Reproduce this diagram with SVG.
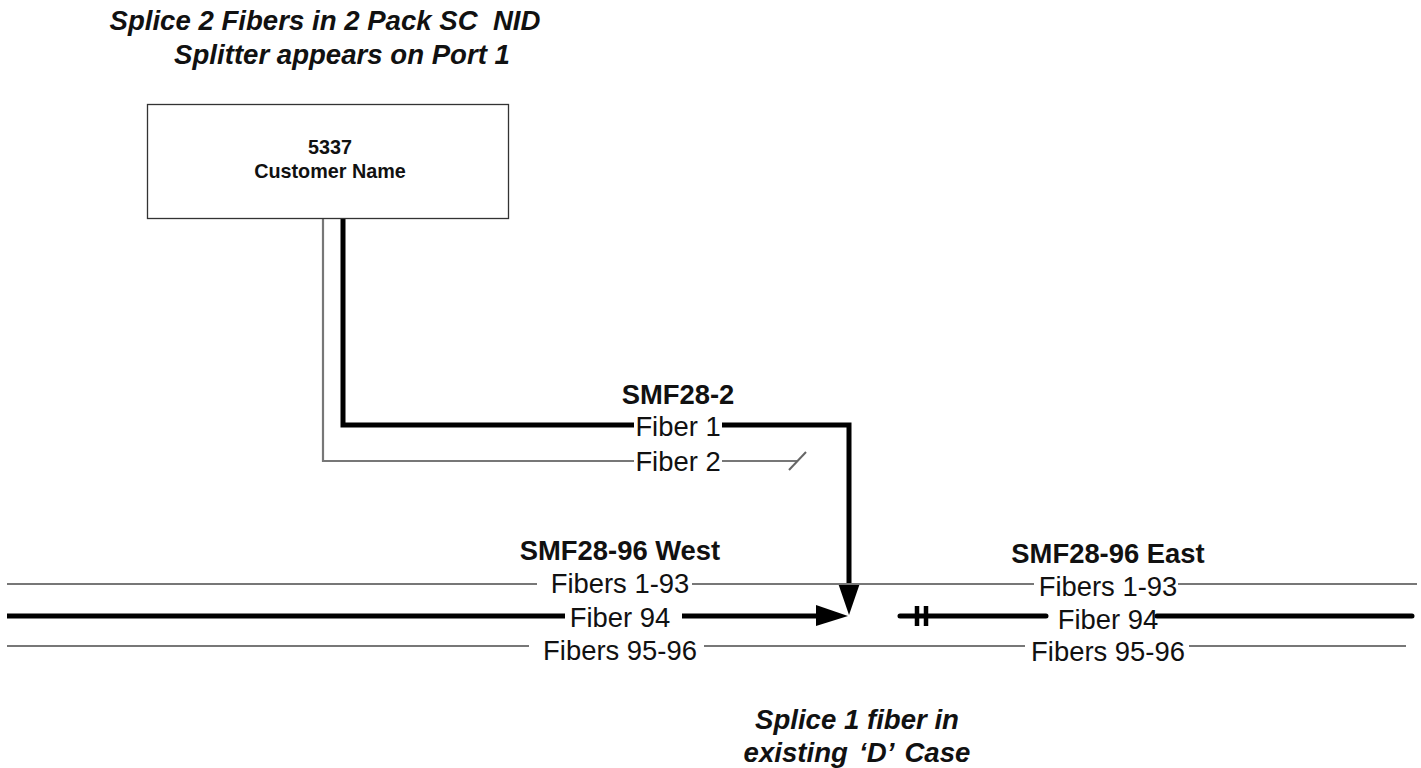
<svg xmlns="http://www.w3.org/2000/svg" width="1421" height="768" viewBox="0 0 1421 768">
<style>
text{font-family:"Liberation Sans",Arial,sans-serif;fill:#111;text-anchor:middle}
.t{font-size:27.4px}
.h{font-size:27.4px;font-weight:bold}
.n{font-size:19.8px;font-weight:bold}
.c{font-size:27.6px;font-weight:bold;font-style:italic}
.thin{fill:none;stroke:#777;stroke-width:2.200}
.thick{fill:none;stroke:#000;stroke-width:5;stroke-linejoin:miter}
</style>
<rect width="1421" height="768" fill="#fff"/>
<g id="connectors">
<path class="thin" d="M323 219V461H634M722 461H797"/>
<path d="M789 470L806 452" fill="none" stroke="#666" stroke-width="2"/>
<path class="thick" d="M343 219V425H634M722 425H849V585"/>
<polygon points="838,583 860,583 849,615"/>
<path class="thin" d="M7 584H537M692 584H1034M1178 584H1417"/>
<path class="thick" d="M7 616H565M682 616H825"/>
<polygon points="816,605 848,616 816,626"/>
<path class="thick" stroke-linecap="round" d="M900 616H1046M1157 616H1412"/>
<path d="M917 606V626M926 606V626" stroke="#000" stroke-width="4.500" fill="none"/>
<path class="thin" d="M7 646H529M704 646H1025M1189 646H1406"/>
</g>
<g id="node-5337">
<rect x="147.500" y="104.500" width="361" height="114" fill="#fff" stroke="#333" stroke-width="1.300"/>
<text class="n" x="330" y="154">5337</text>
<text class="n" x="330" y="178">Customer Name</text>
</g>
<g id="caption-top">
<text class="c" x="325" y="30" xml:space="preserve">Splice 2 Fibers in 2 Pack SC  NID</text>
<text class="c" x="342" y="64">Splitter appears on Port 1</text>
</g>
<g id="cable-smf28-2">
<text class="h" x="678" y="404">SMF28-2</text>
<text class="t" x="678" y="436">Fiber 1</text>
<text class="t" x="678" y="471">Fiber 2</text>
</g>
<g id="cable-west">
<text class="h" x="620" y="560">SMF28-96 West</text>
<text class="t" x="620" y="593">Fibers 1-93</text>
<text class="t" x="620" y="627">Fiber 94</text>
<text class="t" x="620" y="660">Fibers 95-96</text>
</g>
<g id="cable-east">
<text class="h" x="1108" y="563">SMF28-96 East</text>
<text class="t" x="1108" y="596">Fibers 1-93</text>
<text class="t" x="1108" y="629">Fiber 94</text>
<text class="t" x="1108" y="661">Fibers 95-96</text>
</g>
<g id="caption-bottom">
<text class="c" x="857" y="729">Splice 1 fiber in</text>
<text class="c" x="857" y="762" word-spacing="3.500">existing ‘D’ Case</text>
</g>
</svg>
